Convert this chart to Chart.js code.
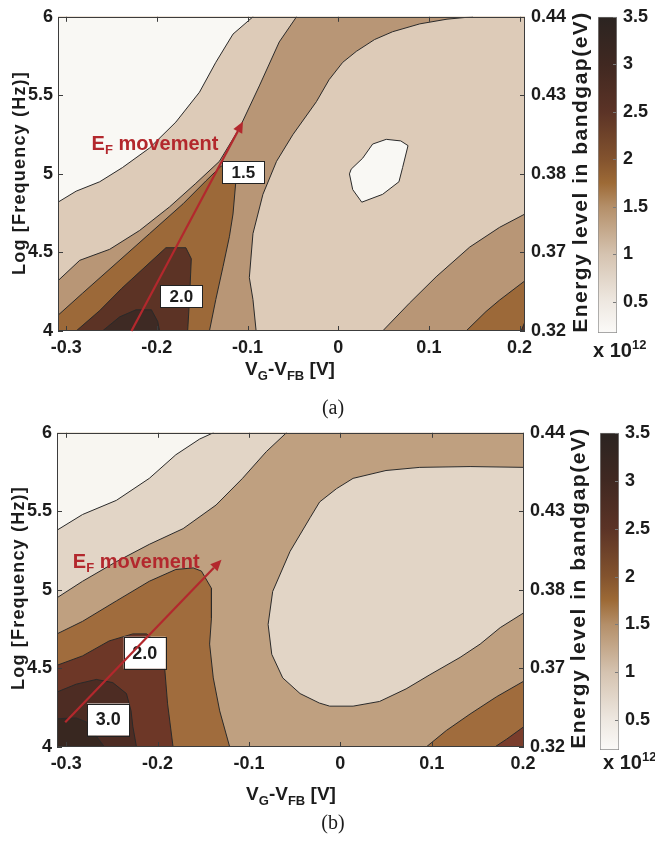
<!DOCTYPE html>
<html lang="en">
<head>
<meta charset="utf-8">
<title>Interface trap density maps</title>
<script src="https://cdn.jsdelivr.net/npm/chart.js@4.4.1/dist/chart.umd.min.js"></script>
<style>
  html, body { margin: 0; padding: 0; background: #ffffff; }
  body { position: relative; width: 655px; height: 841px; overflow: hidden;
         font-family: 'Liberation Sans', Arial, sans-serif; color: #1c1c1c; }
  canvas { position: absolute; }
  .txt { position: absolute; white-space: nowrap; font-weight: bold; line-height: 1; }
  .vert { transform: translate(-50%, -50%) rotate(-90deg); }
  .ytitle { font-size: 18px; letter-spacing: 1.2px; }
  .etitle { font-size: 21px; letter-spacing: 1.5px; }
  .xtitle { font-size: 19px; transform: translateX(-50%); }
  .xtitle sub { font-size: 13px; vertical-align: -5px; line-height: 1; }
  .scale { font-size: 20px; }
  .scale sup { font-size: 13px; vertical-align: 8px; line-height: 1; }
  .panel { position: absolute; white-space: nowrap; line-height: 1;
           font-family: 'Liberation Serif', 'Times New Roman', serif; font-size: 20px;
           transform: translate(-50%, -50%); }
</style>
</head>
<body>
<canvas id="mapA" width="580" height="400" style="left:0;top:0;width:580px;height:400px"></canvas>
<canvas id="barA" width="75" height="360" style="left:580px;top:0;width:75px;height:360px"></canvas>
<canvas id="mapB" width="580" height="400" style="left:0;top:416px;width:580px;height:400px"></canvas>
<canvas id="barB" width="75" height="360" style="left:580px;top:416px;width:75px;height:360px"></canvas>

<div class="txt vert ytitle" style="left:19px;top:173px">Log [Frequency (Hz)]</div>
<div class="txt vert etitle" style="left:579px;top:172px">Energy level in bandgap(eV)</div>
<div class="txt xtitle" style="left:290px;top:359px">V<sub>G</sub>-V<sub>FB</sub> [V]</div>
<div class="txt scale" style="left:593px;top:338px">x 10<sup>12</sup></div>
<div class="panel" style="left:333px;top:407px">(a)</div>

<div class="txt vert ytitle" style="left:18px;top:588px">Log [Frequency (Hz)]</div>
<div class="txt vert etitle" style="left:577px;top:588px">Energy level in bandgap(eV)</div>
<div class="txt xtitle" style="left:291px;top:784px">V<sub>G</sub>-V<sub>FB</sub> [V]</div>
<div class="txt scale" style="left:603px;top:750px">x 10<sup>12</sup></div>
<div class="panel" style="left:333px;top:822px">(b)</div>

<script>
// ---- axes -------------------------------------------------------------
const voltTicks = [-0.3, -0.2, -0.1, 0, 0.1, 0.2];
const freqTicks = [4, 4.5, 5, 5.5, 6];
const energyTicks = ['0.32', '0.37', '0.38', '0.43', '0.44'];
const densityTicks = [0.5, 1, 1.5, 2, 2.5, 3, 3.5];

const voltRangeA = [-0.309, 0.206];
const voltRangeB = [-0.31, 0.201];
const freqRange = [4, 6];
const densityRangeA = [0.17, 3.5];
const densityRangeB = [0.19, 3.5];

// colour ramp of the density scale (value -> colour)
const rampValues = [0.17, 0.5, 1.0, 1.5, 1.75, 2.0, 2.5, 3.0, 3.5];
const rampColors = ['#fbfaf8', '#eee8e1', '#d5c3b0', '#b48f69', '#9d6a36', '#83532e', '#5b3326', '#402821', '#2b2421'];

// ---- contour lines, panel (a): [V, log f] -------------------------------
const aLevel05 = [[-0.309,4.82],[-0.289,4.89],[-0.263,4.95],[-0.238,5.04],[-0.208,5.165],[-0.179,5.33],[-0.153,5.52],[-0.135,5.71],[-0.116,5.89],[-0.094,6.0]];
const aLevel10Left = [[-0.309,4.32],[-0.285,4.45],[-0.252,4.52],[-0.219,4.64],[-0.186,4.79],[-0.157,4.94],[-0.131,5.08],[-0.109,5.29],[-0.087,5.56],[-0.065,5.84],[-0.046,6.0]];
const aLevel10Right = [[-0.0905,4.0],[-0.094,4.2],[-0.098,4.34],[-0.094,4.62],[-0.083,4.87],[-0.068,5.08],[-0.05,5.25],[-0.024,5.46],[-0.01,5.6],[0.005,5.71],[0.02,5.78],[0.04,5.855],[0.06,5.905],[0.09,5.955],[0.12,5.985],[0.148,6.0]];
const aLevel15 = [[-0.309,4.10],[-0.282,4.24],[-0.245,4.43],[-0.208,4.62],[-0.171,4.81],[-0.146,4.955],[-0.129,5.05],[-0.118,5.03],[-0.113,4.944],[-0.116,4.745],[-0.12,4.6],[-0.127,4.41],[-0.135,4.2],[-0.142,4.0]];
const aLevel20 = [[-0.289,4.0],[-0.263,4.13],[-0.239,4.27],[-0.19,4.53],[-0.168,4.53],[-0.162,4.46],[-0.164,4.2],[-0.166,4.0]];
const aLevel25 = [[-0.26,4.0],[-0.241,4.09],[-0.223,4.135],[-0.206,4.135],[-0.199,4.06],[-0.197,4.0]];
const aLevel10Corner = [[0.049,4.0],[0.0785,4.177],[0.108,4.345],[0.145,4.534],[0.178,4.66],[0.206,4.745]];
const aLevel15Corner = [[0.141,4.0],[0.163,4.124],[0.178,4.197],[0.206,4.32]];
const aLevel20Corner = [[0.2017,4.0],[0.206,4.06]];
const aLevel05Island = [[0.0124,5.0],[0.016,4.90],[0.026,4.82],[0.049,4.87],[0.067,4.95],[0.071,5.04],[0.077,5.18],[0.069,5.21],[0.053,5.22],[0.038,5.19],[0.027,5.10],[0.0143,5.03]];

// ---- contour lines, panel (b) -------------------------------------------
const bLevel05 = [[-0.31,5.38],[-0.282,5.48],[-0.245,5.57],[-0.209,5.71],[-0.18,5.86],[-0.154,5.96],[-0.139,6.0]];
const bLevel10Left = [[-0.31,4.95],[-0.282,5.055],[-0.245,5.18],[-0.209,5.29],[-0.172,5.39],[-0.136,5.54],[-0.107,5.71],[-0.081,5.88],[-0.059,6.0]];
const bLevel10Basin = [[0.201,5.78],[0.142,5.785],[0.087,5.78],[0.05,5.76],[0.014,5.71],[-0.004,5.645],[-0.0226,5.56],[-0.033,5.46],[-0.055,5.245],[-0.074,4.99],[-0.079,4.78],[-0.075,4.59],[-0.063,4.44],[-0.044,4.34],[-0.023,4.28],[-0.0116,4.26],[0.014,4.26],[0.043,4.29],[0.072,4.37],[0.098,4.46],[0.131,4.57],[0.153,4.655],[0.175,4.76],[0.201,4.855]];
const bLevel15 = [[-0.31,4.72],[-0.282,4.80],[-0.245,4.93],[-0.209,5.055],[-0.18,5.13],[-0.161,5.14],[-0.152,5.12],[-0.141,5.01],[-0.141,4.82],[-0.143,4.655],[-0.139,4.44],[-0.132,4.23],[-0.121,4.0]];
const bLevel20 = [[-0.31,4.52],[-0.282,4.58],[-0.253,4.675],[-0.227,4.72],[-0.212,4.72],[-0.198,4.655],[-0.192,4.49],[-0.189,4.275],[-0.183,4.0]];
const bLevel25 = [[-0.31,4.35],[-0.289,4.40],[-0.267,4.43],[-0.249,4.41],[-0.234,4.34],[-0.229,4.23],[-0.227,4.13],[-0.223,4.0]];
const bLevel30 = [[-0.31,4.18],[-0.289,4.185],[-0.278,4.16],[-0.267,4.07],[-0.258,4.0]];
const bLevel15Corner = [[0.094,4.0],[0.116,4.105],[0.142,4.21],[0.171,4.32],[0.201,4.42]];
const bLevel20Corner = [[0.169,4.0],[0.182,4.05],[0.201,4.13]];

// ---- contour labels and the Fermi-level arrow ----------------------------
const aLabelLevels = [1.5, 2.0];
const aLabelAt = [[-0.1045, 5.01], [-0.173, 4.22]];
const bLabelLevels = [2.0, 3.0];
const bLabelAt = [[-0.214, 4.6], [-0.254, 4.175]];
const aArrow = [[-0.228, 4.0], [-0.105, 5.333]];
const bArrow = [[-0.301, 4.158], [-0.130, 5.192]];
const aNoteAt = [-0.272, 5.155];
const bNoteAt = [-0.2927, 5.139];

// ---- styling --------------------------------------------------------------
const INK = '#1c1c1c';
const CONTOUR = '#2a2a2a';
const FRAME = '#3c3c3c';
const ARROW = '#b3282d';
const TICK_FONT = { family: "'Liberation Sans Narrow', 'Liberation Sans', Arial, sans-serif", size: 18, weight: 'bold' };
const BAR_FONT = { family: "'Liberation Sans Narrow', 'Liberation Sans', Arial, sans-serif", size: 18, weight: 'bold' };
const fillA = { white: '#f9f8f4', beige: '#ddcbb8', tan: '#b89676', orange: '#9c6939', dark: '#5c3325', darkest: '#3e2a24' };
const fillB = { white: '#f8f6f1', beige: '#e2d5c6', tan: '#bfa080', orange: '#a06c3d', red: '#6d3727', dark: '#4d2c23', darkest: '#382720', corner: '#7a3d2c' };

// polygons are closed well outside the axes so only contour lines show
const XL = -0.45, XR = 0.35, YB = 3.6, YT = 6.4;
const last = l => l[l.length - 1];
const leftToTop = l => [[XL, l[0][1]], ...l, [last(l)[0], YT], [XL, YT]];
const leftToBottom = l => [[XL, l[0][1]], ...l, [last(l)[0], YB], [XL, YB]];
const bottomArch = l => [[l[0][0], YB], ...l, [last(l)[0], YB]];
const bottomToRight = l => [[l[0][0], YB], ...l, [XR, last(l)[1]], [XR, YB]];
const bottomToTopRight = l => [[l[0][0], YB], ...l, [last(l)[0], YT], [XR, YT], [XR, YB]];
const rightLoop = l => [[XR, l[0][1]], ...l, [XR, last(l)[1]]];
const closedLoop = l => [...l, l[0]];
const fullRect = [[XL, YB], [XR, YB], [XR, YT], [XL, YT]];

const regionsA = [
  { points: fullRect, color: fillA.tan, stroke: false },
  { points: leftToTop(aLevel10Left), color: fillA.beige },
  { points: leftToTop(aLevel05), color: fillA.white },
  { points: bottomToTopRight(aLevel10Right), color: fillA.beige },
  { points: leftToBottom(aLevel15), color: fillA.orange },
  { points: bottomArch(aLevel20), color: fillA.dark },
  { points: bottomArch(aLevel25), color: fillA.darkest },
  { points: bottomToRight(aLevel10Corner), color: fillA.tan },
  { points: bottomToRight(aLevel15Corner), color: fillA.orange },
  { points: bottomToRight(aLevel20Corner), color: fillA.dark },
  { points: closedLoop(aLevel05Island), color: fillA.white }
];

const regionsB = [
  { points: fullRect, color: fillB.tan, stroke: false },
  { points: leftToTop(bLevel10Left), color: fillB.beige },
  { points: leftToTop(bLevel05), color: fillB.white },
  { points: rightLoop(bLevel10Basin), color: fillB.beige },
  { points: leftToBottom(bLevel15), color: fillB.orange },
  { points: leftToBottom(bLevel20), color: fillB.red },
  { points: leftToBottom(bLevel25), color: fillB.dark },
  { points: leftToBottom(bLevel30), color: fillB.darkest },
  { points: bottomToRight(bLevel15Corner), color: fillB.orange },
  { points: bottomToRight(bLevel20Corner), color: fillB.corner }
];

// frame and inward tick marks around the plotting area
const frameTicks = {
  id: 'frameTicks',
  afterDatasetsDraw(chart) {
    const { ctx, chartArea: a, scales: { x, y } } = chart;
    ctx.save();
    ctx.strokeStyle = FRAME;
    ctx.lineWidth = 1;
    ctx.beginPath();
    for (const v of voltTicks) {
      const p = Math.round(x.getPixelForValue(v)) + 0.5;
      ctx.moveTo(p, a.bottom); ctx.lineTo(p, a.bottom - 5);
      ctx.moveTo(p, a.top); ctx.lineTo(p, a.top + 5);
    }
    for (const v of freqTicks) {
      const p = Math.round(y.getPixelForValue(v)) + 0.5;
      ctx.moveTo(a.left, p); ctx.lineTo(a.left + 5, p);
      ctx.moveTo(a.right, p); ctx.lineTo(a.right - 5, p);
    }
    ctx.stroke();
    ctx.strokeRect(Math.round(a.left) + 0.5, Math.round(a.top) + 0.5,
                   Math.round(a.right - a.left) - 1, Math.round(a.bottom - a.top) - 1);
    ctx.restore();
  }
};

// contour labels, the arrow and its caption
const annotate = {
  id: 'annotate',
  afterDraw(chart, _args, o) {
    const { ctx, scales: { x, y } } = chart;
    const px = v => x.getPixelForValue(v);
    const py = v => y.getPixelForValue(v);
    ctx.save();
    o.levels.forEach((lv, i) => {
      const cx = px(o.at[i][0]), cy = py(o.at[i][1]);
      const w = o.box[0], h = o.box[1];
      ctx.fillStyle = '#ffffff';
      ctx.fillRect(cx - w / 2, cy - h / 2, w, h);
      ctx.strokeStyle = '#222';
      ctx.lineWidth = 1;
      ctx.strokeRect(Math.round(cx - w / 2) + 0.5, Math.round(cy - h / 2) + 0.5, w, h);
      ctx.fillStyle = INK;
      ctx.font = `bold ${o.labelSize}px 'Liberation Sans Narrow', 'Liberation Sans', Arial, sans-serif`;
      ctx.textAlign = 'center';
      ctx.textBaseline = 'middle';
      ctx.fillText(lv.toFixed(1), cx, cy + 1);
    });
    // arrow
    const tx = px(o.arrow[0][0]), ty = py(o.arrow[0][1]);
    const hx = px(o.arrow[1][0]), hy = py(o.arrow[1][1]);
    const ang = Math.atan2(hy - ty, hx - tx);
    const c = Math.cos(ang), s = Math.sin(ang), head = 11, half = 5;
    ctx.strokeStyle = ARROW;
    ctx.fillStyle = ARROW;
    ctx.lineWidth = 2.2;
    ctx.beginPath();
    ctx.moveTo(tx, ty);
    ctx.lineTo(hx - head * c, hy - head * s);
    ctx.stroke();
    ctx.beginPath();
    ctx.moveTo(hx, hy);
    ctx.lineTo(hx - head * c + half * s, hy - head * s - half * c);
    ctx.lineTo(hx - head * c - half * s, hy - head * s + half * c);
    ctx.closePath();
    ctx.fill();
    // caption E_F movement
    let nx = px(o.note[0]);
    const ny = py(o.note[1]);
    ctx.textAlign = 'left';
    ctx.textBaseline = 'alphabetic';
    ctx.font = "bold 20px 'Liberation Sans', Arial, sans-serif";
    ctx.fillText('E', nx, ny);
    nx += ctx.measureText('E').width;
    ctx.font = "bold 13px 'Liberation Sans', Arial, sans-serif";
    ctx.fillText('F', nx, ny + 4);
    nx += ctx.measureText('F').width;
    ctx.font = "bold 20px 'Liberation Sans', Arial, sans-serif";
    ctx.fillText(' movement', nx, ny);
    ctx.restore();
  }
};

function setTicks(values) {
  return scale => { scale.ticks = values.map(value => ({ value })); };
}

function drawMap(id, regions, cfg) {
  const datasets = regions.map((r, i, all) => ({
    data: r.points.map(([vx, vy]) => ({ x: vx, y: vy })),
    fill: 'shape',
    backgroundColor: r.color,
    borderColor: r.stroke === false ? 'rgba(0,0,0,0)' : CONTOUR,
    borderWidth: r.stroke === false ? 0 : 1,
    pointRadius: 0,
    tension: 0,
    order: all.length - i
  }));
  new Chart(document.getElementById(id), {
    type: 'line',
    data: { datasets },
    options: {
      responsive: false,
      animation: false,
      events: [],
      layout: { padding: { top: cfg.top, left: 0, right: cfg.rightPad, bottom: 0 } },
      plugins: { legend: { display: false }, tooltip: { enabled: false }, annotate: cfg.notes },
      scales: {
        x: {
          type: 'linear', min: cfg.volt[0], max: cfg.volt[1],
          afterBuildTicks: setTicks(voltTicks),
          afterFit: s => { s.height = cfg.xAxisH; },
          grid: { display: false, drawTicks: false }, border: { display: false },
          ticks: { autoSkip: false, maxRotation: 0, padding: 6, font: TICK_FONT, color: INK,
                   callback: v => (v === 0 ? '0' : String(v)) }
        },
        y: {
          type: 'linear', position: 'left', min: freqRange[0], max: freqRange[1],
          afterBuildTicks: setTicks(freqTicks),
          afterFit: s => { s.width = cfg.leftW; },
          grid: { display: false, drawTicks: false }, border: { display: false },
          ticks: { autoSkip: false, padding: 5, font: TICK_FONT, color: INK, callback: v => String(v) }
        },
        yE: {
          type: 'linear', position: 'right', min: freqRange[0], max: freqRange[1],
          afterBuildTicks: setTicks(freqTicks),
          afterFit: s => { s.width = cfg.rightW; },
          grid: { display: false, drawTicks: false }, border: { display: false },
          ticks: { autoSkip: false, padding: 6, font: TICK_FONT, color: INK, callback: (v, i) => energyTicks[i] }
        }
      }
    },
    plugins: [frameTicks, annotate]
  });
}

function rampFill(context) {
  const chart = context.chart;
  const ys = chart.scales.y;
  if (!chart.chartArea || !ys) return rampColors[3];
  const top = ys.getPixelForValue(ys.max), bottom = ys.getPixelForValue(ys.min);
  const g = chart.ctx.createLinearGradient(0, bottom, 0, top);
  rampValues.forEach((v, i) => {
    const t = Math.min(1, Math.max(0, (v - ys.min) / (ys.max - ys.min)));
    g.addColorStop(t, rampColors[i]);
  });
  return g;
}

const barTicks = {
  id: 'barTicks',
  afterDatasetsDraw(chart) {
    const { ctx, chartArea: a, scales: { y } } = chart;
    ctx.save();
    ctx.strokeStyle = '#7a7a7a';
    ctx.lineWidth = 1;
    ctx.beginPath();
    for (const v of densityTicks) {
      const p = Math.round(y.getPixelForValue(v)) + 0.5;
      ctx.moveTo(a.right - 1, p); ctx.lineTo(a.right - 4, p);
    }
    ctx.stroke();
    ctx.restore();
  }
};

function drawBar(id, range, cfg) {
  new Chart(document.getElementById(id), {
    type: 'bar',
    data: { labels: [''], datasets: [{ data: [range], backgroundColor: rampFill, borderColor: '#8c8c8c',
                                       borderWidth: 1, borderSkipped: false, barPercentage: 1, categoryPercentage: 1 }] },
    options: {
      responsive: false,
      animation: false,
      events: [],
      layout: { padding: { left: cfg.left, top: cfg.top, bottom: cfg.bottom, right: 0 } },
      plugins: { legend: { display: false }, tooltip: { enabled: false } },
      scales: {
        x: { display: false },
        y: {
          position: 'right', min: range[0], max: range[1],
          afterBuildTicks: setTicks(densityTicks),
          afterFit: s => { s.width = cfg.axisW; },
          grid: { display: false, drawTicks: false }, border: { display: false },
          ticks: { autoSkip: false, padding: cfg.pad, font: BAR_FONT, color: INK, callback: v => String(v) }
        }
      }
    },
    plugins: [barTicks]
  });
}

drawMap('mapA', regionsA, {
  volt: voltRangeA, top: 14, rightPad: 10, rightW: 45, leftW: 58, xAxisH: 69,
  notes: { levels: aLabelLevels, at: aLabelAt, box: [42, 22], labelSize: 17, arrow: aArrow, note: aNoteAt }
});
drawMap('mapB', regionsB, {
  volt: voltRangeB, top: 15, rightPad: 10, rightW: 46, leftW: 57, xAxisH: 69,
  notes: { levels: bLabelLevels, at: bLabelAt, box: [42, 32], labelSize: 18, arrow: bArrow, note: bNoteAt }
});
drawBar('barA', densityRangeA, { left: 18, top: 14, bottom: 27, axisW: 38, pad: 6 });
drawBar('barB', densityRangeB, { left: 20, top: 14, bottom: 26, axisW: 36, pad: 6 });
</script>
</body>
</html>
